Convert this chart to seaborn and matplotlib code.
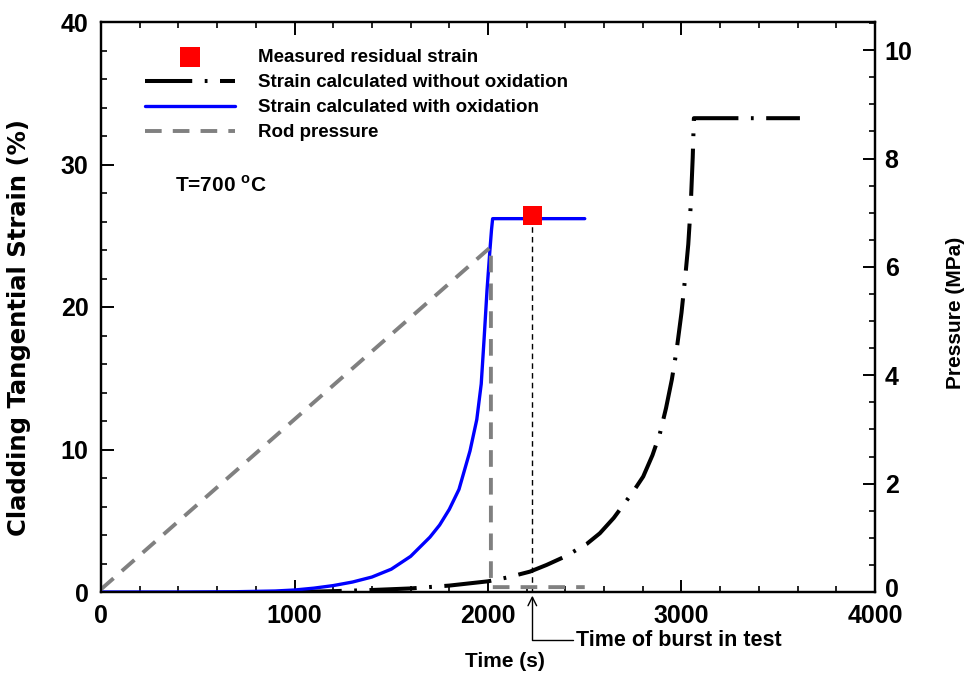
import matplotlib
matplotlib.use("Agg")
import matplotlib.pyplot as plt
import matplotlib.transforms as mtransforms
import seaborn as sns

# ---------------- data ----------------
t_oxid = [0, 400, 700, 900, 1000, 1100, 1200, 1300, 1400, 1500, 1600, 1700, 1750, 1800,
          1850, 1907, 1942, 1965, 1980, 1995, 2010, 2018, 2024, 2500]
s_oxid = [0.0, 0.0, 0.02, 0.07, 0.14, 0.27, 0.45, 0.7, 1.05, 1.6, 2.5, 3.85, 4.7, 5.8,
          7.2, 9.9, 12.1, 14.6, 17.8, 21.2, 24.0, 25.4, 26.2, 26.2]

t_nooxid = [1000, 1200, 1400, 1600, 1800, 2000, 2100, 2217, 2303, 2400, 2510, 2578, 2650,
            2750, 2802, 2850, 2888, 2920, 2950, 2975, 3000, 3020, 3035, 3048, 3058, 3064, 3612]
s_nooxid = [0.0, 0.06, 0.14, 0.25, 0.45, 0.75, 1.02, 1.43, 1.9, 2.5, 3.37, 4.12, 5.2,
            7.04, 8.1, 9.6, 11.1, 12.9, 14.9, 17.0, 19.6, 22.2, 24.4, 27.2, 30.5, 33.25, 33.25]

t_press = [0, 2015, 2015, 2500]
p_press = [0.05, 6.37, 0.09, 0.09]

t_meas = [2229]
s_meas = [26.4]

t_burst = 2229
temp_label = "T=700"

xticks = [0, 1000, 2000, 3000, 4000]
yticks_left = [0, 10, 20, 30, 40]
yticks_right = [0, 2, 4, 6, 8, 10]

# ---------------- style ----------------
sns.set_style("ticks")
plt.rcParams["font.family"] = ["Liberation Sans", "DejaVu Sans"]
plt.rcParams["font.weight"] = "bold"
plt.rcParams["axes.labelweight"] = "bold"
plt.rcParams["text.color"] = "black"
plt.rcParams["axes.labelcolor"] = "black"
plt.rcParams["xtick.color"] = "black"
plt.rcParams["ytick.color"] = "black"
plt.rcParams["axes.edgecolor"] = "black"
plt.rcParams["mathtext.fontset"] = "custom"
plt.rcParams["mathtext.rm"] = "Liberation Sans:bold"
plt.rcParams["mathtext.bf"] = "Liberation Sans:bold"
plt.rcParams["lines.scale_dashes"] = False

fig = plt.figure(figsize=(9.68, 6.78), dpi=100)
ax = fig.add_axes([101/968, 1-592/678, 774/968, 570/678])
ax2 = ax.twinx()

# strain with oxidation (blue)
sns.lineplot(x=t_oxid, y=s_oxid, ax=ax, color="#0000FF", lw=2.4, sort=False,
             estimator=None, label="Strain calculated with oxidation", zorder=4)
# strain without oxidation (black long dash-dot)
sns.lineplot(x=t_nooxid, y=s_nooxid, ax=ax, color="black", lw=2.9, sort=False,
             estimator=None, linestyle=(0, (34, 9, 2, 9)),
             label="Strain calculated without oxidation", zorder=3)
# measured residual strain
sns.scatterplot(x=t_meas, y=s_meas, ax=ax, marker="s", s=190, color="red",
                edgecolor="none", label="Measured residual strain", zorder=5)
# vertical burst line
ax.plot([t_burst, t_burst], [0, s_oxid[-1]], color="black", lw=1.0,
        linestyle=(0, (4, 3)), zorder=2)

# rod pressure (gray dashed) on right axis
sns.lineplot(x=t_press, y=p_press, ax=ax2, color="#808080", lw=2.8, sort=False,
             estimator=None, linestyle=(0, (12, 8)), label="Rod pressure", zorder=2)

# axes limits
ax.set_xlim(0, 4000)
ax.set_ylim(0, 40)
ax2.set_ylim(0, 10.52)
ax.set_xticks(xticks)
ax.set_yticks(yticks_left)
ax2.set_yticks(yticks_right)
ax.xaxis.set_minor_locator(matplotlib.ticker.MultipleLocator(200))
ax.yaxis.set_minor_locator(matplotlib.ticker.MultipleLocator(2))
ax2.yaxis.set_minor_locator(matplotlib.ticker.MultipleLocator(0.5))

for a in (ax, ax2):
    for sp in a.spines.values():
        sp.set_linewidth(1.6)
        sp.set_color("black")
ax.tick_params(axis="x", which="both", direction="in", top=True, bottom=True,
               labelsize=18, pad=8.5)
ax.tick_params(axis="y", which="both", direction="in", left=True, right=False,
               labelsize=18, pad=9)
ax2.tick_params(axis="y", which="both", direction="in", right=True, left=False,
                labelsize=18, pad=7)
for a in (ax, ax2):
    a.tick_params(which="major", length=9, width=1.4)
    a.tick_params(which="minor", length=4, width=1.2)
for lab in ax.get_xticklabels() + ax.get_yticklabels() + ax2.get_yticklabels():
    lab.set_fontweight("bold")

ax.set_xlabel("Time (s)", fontsize=15, fontweight="bold")
ax.set_ylabel("Cladding Tangential Strain (%)", fontsize=17.5, fontweight="bold",
              family=["DejaVu Sans"])
ax2.set_ylabel("Pressure (MPa)", fontsize=15, fontweight="bold")
ax.xaxis.set_label_coords((505-101)/774, -(652-592)/570)
ax.yaxis.set_label_coords((31-101)/774, (592-327)/570)
ax2.yaxis.set_label_coords((946-101)/774, (592-313)/570)

# temperature text
ax.text(382, 28.56, temp_label + r" $^{\mathbf{o}}$C", fontsize=15,
        fontweight="bold", ha="left", va="center")

# burst annotation
ax.annotate("Time of burst in test", xy=(t_burst, -0.25), xycoords="data",
            xytext=(576, 678-640), textcoords="figure pixels",
            ha="left", va="center", fontsize=15.5, fontweight="bold",
            annotation_clip=False,
            arrowprops=dict(arrowstyle="->", color="black", lw=1.0,
                            shrinkA=0, shrinkB=0,
                            connectionstyle="angle,angleA=0,angleB=90,rad=0"))

# legend
h1, l1 = ax.get_legend_handles_labels()
h2, l2 = ax2.get_legend_handles_labels()
hd = dict(zip(l1 + l2, h1 + h2))
order = ["Measured residual strain", "Strain calculated without oxidation",
         "Strain calculated with oxidation", "Rod pressure"]
for a in (ax, ax2):
    if a.get_legend() is not None:
        a.get_legend().remove()
leg = ax2.legend([hd[k] for k in order], order, loc="upper left",
                 bbox_to_anchor=(44/774, 0.953), frameon=False,
                 fontsize=13.5, handlelength=4.8, handletextpad=1.2,
                 labelspacing=0.43, borderaxespad=0, borderpad=0)
for txt in leg.get_texts():
    txt.set_fontweight("bold")

# lift the right-axis "0" slightly so it clears the "4000" label
fig.canvas.draw()
zero_lab = ax2.yaxis.get_major_ticks()[0].label2
zero_lab.set_transform(zero_lab.get_transform() +
                       mtransforms.ScaledTranslation(0, 3/72, fig.dpi_scale_trans))

fig.savefig("out.png", dpi=100)
